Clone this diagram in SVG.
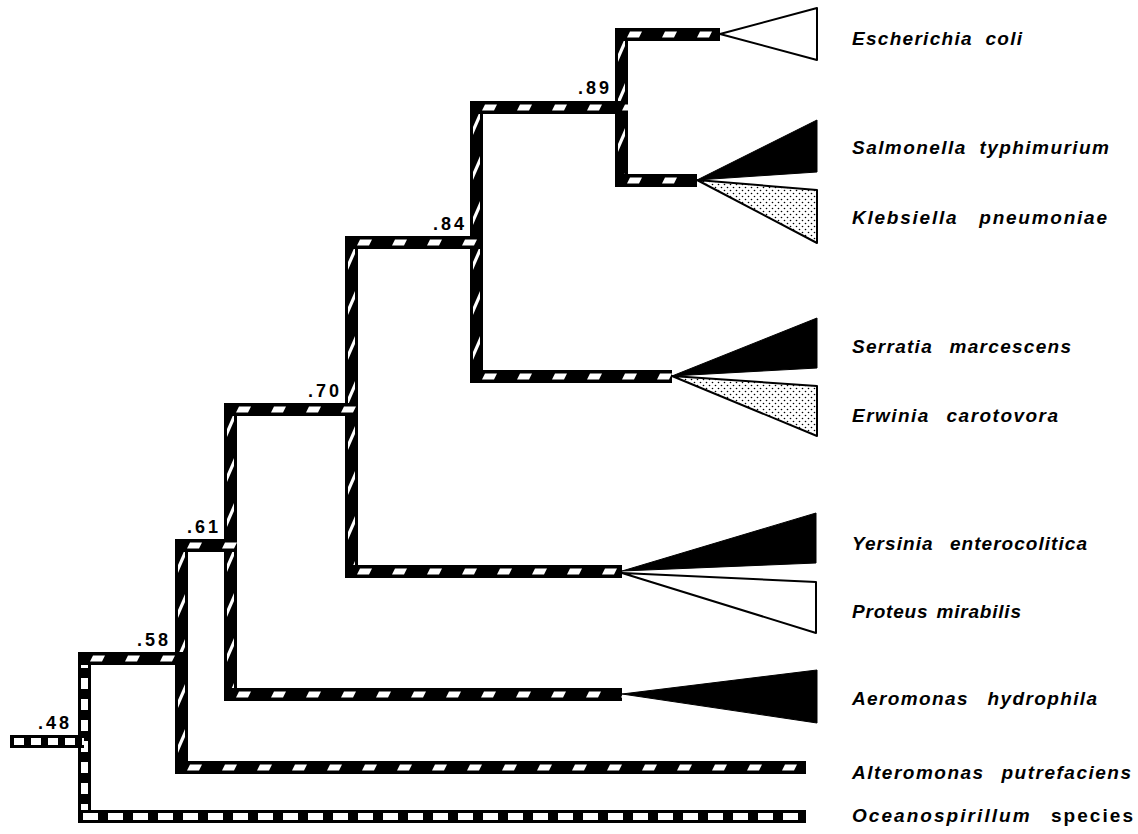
<svg xmlns="http://www.w3.org/2000/svg" width="1138" height="834" viewBox="0 0 1138 834">
<style>
.lab{font-family:"Liberation Sans",Arial,sans-serif;font-weight:bold;font-style:italic;font-size:19px;letter-spacing:1px;word-spacing:6px;fill:#000}
.up{font-style:normal}
.num{font-family:"Liberation Sans",Arial,sans-serif;font-weight:bold;font-size:18px;letter-spacing:3px;fill:#000;text-anchor:end}
.wt{fill:#fff;stroke:#000;stroke-width:2;stroke-linejoin:round}
.bk{fill:#000;stroke:#000;stroke-width:1;stroke-linejoin:round}
.dt{fill:url(#dots);stroke:#000;stroke-width:2;stroke-linejoin:round}
</style>
<defs>
<pattern id="ph" patternUnits="userSpaceOnUse" width="35" height="13">
<rect width="35" height="13" fill="#000"/>
<polygon points="15,3.5 27,3.5 24,9.5 12,9.5" fill="#fff"/>
</pattern>
<pattern id="pv" patternUnits="userSpaceOnUse" width="13" height="45">
<rect width="13" height="45" fill="#000"/>
<polygon points="10,10 10,18 3,34 3,26" fill="#fff"/>
</pattern>
<pattern id="lh" patternUnits="userSpaceOnUse" width="25" height="13">
<rect width="25" height="13" fill="#000"/>
<rect x="5" y="3" width="15" height="7" fill="#fff"/>
</pattern>
<pattern id="ls" patternUnits="userSpaceOnUse" width="17" height="13">
<rect width="17" height="13" fill="#000"/>
<rect x="4" y="3" width="10" height="7" fill="#fff"/>
</pattern>
<pattern id="lv" patternUnits="userSpaceOnUse" width="13" height="21">
<rect width="13" height="21" fill="#000"/>
<rect x="3" y="5" width="7" height="11" fill="#fff"/>
</pattern>
<pattern id="dots" patternUnits="userSpaceOnUse" width="6" height="6">
<rect width="6" height="6" fill="#fff"/>
<circle cx="1.5" cy="1.5" r="0.8" fill="#000"/>
<circle cx="4.5" cy="4.5" r="0.8" fill="#000"/>
</pattern>
</defs>
<rect width="1138" height="834" fill="#fff"/>
<g id="connectors">
<rect transform="translate(78,652)" width="13" height="170" fill="url(#lv)"/>
<rect transform="translate(175,539)" width="13" height="234" fill="url(#pv)"/>
<rect transform="translate(224,403)" width="13" height="297" fill="url(#pv)"/>
<rect transform="translate(345,236)" width="13" height="341" fill="url(#pv)"/>
<rect transform="translate(470,101)" width="13" height="281" fill="url(#pv)"/>
<rect transform="translate(615,28)" width="13" height="158" fill="url(#pv)"/>
<rect transform="translate(10,735)" width="74" height="13" fill="url(#ls)"/>
<rect transform="translate(78,652)" width="110" height="13" fill="url(#ph)"/>
<rect transform="translate(78,810)" width="728" height="13" fill="url(#lh)"/>
<rect transform="translate(175,761)" width="631" height="13" fill="url(#ph)"/>
<rect transform="translate(175,539)" width="62" height="13" fill="url(#ph)"/>
<rect transform="translate(224,688)" width="398" height="13" fill="url(#ph)"/>
<rect transform="translate(224,403)" width="134" height="13" fill="url(#ph)"/>
<rect transform="translate(345,565)" width="277" height="13" fill="url(#ph)"/>
<rect transform="translate(345,236)" width="138" height="13" fill="url(#ph)"/>
<rect transform="translate(470,370)" width="202" height="13" fill="url(#ph)"/>
<rect transform="translate(470,101)" width="158" height="13" fill="url(#ph)"/>
<rect transform="translate(615,28)" width="105" height="13" fill="url(#ph)"/>
<rect transform="translate(615,174)" width="82" height="13" fill="url(#ph)"/>
</g>
<g id="node-048"><text class="num" x="72" y="729">.48</text></g>
<g id="node-058"><text class="num" x="171" y="646">.58</text></g>
<g id="node-061"><text class="num" x="221" y="533">.61</text></g>
<g id="node-070"><text class="num" x="342" y="397">.70</text></g>
<g id="node-084"><text class="num" x="467" y="230">.84</text></g>
<g id="node-089"><text class="num" x="612" y="94">.89</text></g>
<g id="ecoli"><polygon class="wt" points="720,34 817,8 817,60"/><text class="lab" x="852" y="45" textLength="171" lengthAdjust="spacing">Escherichia coli</text></g>
<g id="salmonella"><polygon class="bk" points="697,180 817,120 817,172"/><text class="lab" x="852" y="154" textLength="258" lengthAdjust="spacing">Salmonella typhimurium</text></g>
<g id="klebsiella"><polygon class="dt" points="697,180 817,190 817,243"/><text class="lab" x="852" y="224" textLength="256" lengthAdjust="spacing" style="word-spacing:14px">Klebsiella pneumoniae</text></g>
<g id="serratia"><polygon class="bk" points="672,376 817,318 817,368"/><text class="lab" x="852" y="353" textLength="220" lengthAdjust="spacing" style="word-spacing:10px">Serratia marcescens</text></g>
<g id="erwinia"><polygon class="dt" points="672,376 817,386 817,436"/><text class="lab" x="852" y="422" textLength="207" lengthAdjust="spacing" style="word-spacing:10px">Erwinia carotovora</text></g>
<g id="yersinia"><polygon class="bk" points="622,571 816,513 816,563"/><text class="lab" x="852" y="550" textLength="236" lengthAdjust="spacing" style="word-spacing:10px">Yersinia enterocolitica</text></g>
<g id="proteus"><polygon class="wt" points="622,573 816,582 816,633"/><text class="lab" x="852" y="618" textLength="170" lengthAdjust="spacing" style="word-spacing:2px">Proteus mirabilis</text></g>
<g id="aeromonas"><polygon class="bk" points="622,694 817,670 817,723"/><text class="lab" x="852" y="705" textLength="246" lengthAdjust="spacing" style="word-spacing:12px">Aeromonas hydrophila</text></g>
<g id="alteromonas"><text class="lab" x="852" y="779" textLength="280" lengthAdjust="spacing" style="word-spacing:10px">Alteromonas putrefaciens</text></g>
<g id="oceanospirillum"><text class="lab" x="852" y="822" textLength="282" lengthAdjust="spacing" style="word-spacing:12px">Oceanospirillum <tspan class="up">species</tspan></text></g>
</svg>
